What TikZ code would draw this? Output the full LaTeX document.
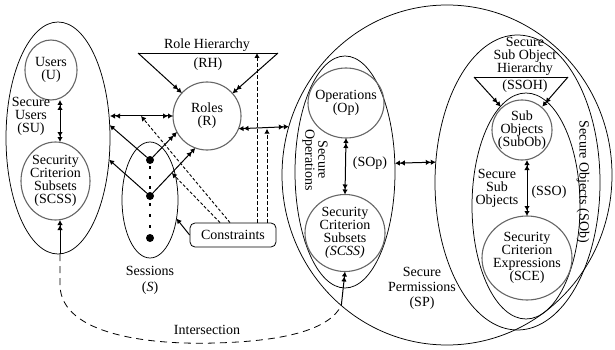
\documentclass[tikz,border=0pt]{standalone}
\usepackage{fontspec}
\setmainfont{Liberation Serif}
\usetikzlibrary{arrows.meta,shapes.geometric,calc}
\begin{document}
\begin{tikzpicture}[x=1pt,y=-1pt,
  font=\fontsize{14}{13}\selectfont,
  >={Latex[length=5pt,width=5.5pt]},
  ring/.style={draw, ellipse, line width=0.75pt, inner sep=0, outer sep=0},
  disc/.style={draw=black!60, ellipse, line width=1.1pt, inner sep=0, outer sep=0},
  txt/.style={align=center, inner sep=0},
  arr/.style={line width=1pt},
  fine/.style={line width=0.9pt, dash pattern=on 3pt off 2pt},
  vdash/.style={line width=1pt, dash pattern=on 4pt off 2pt},
  longdash/.style={line width=0.8pt, dash pattern=on 7pt off 5pt},
  dot/.style={circle, fill, inner sep=0, minimum size=8pt},
  dotline/.style={line width=2.5pt},
]
\useasboundingbox (0,0) rectangle (615,350);

% ---------- Secure users ----------
\node[ring, minimum width=104pt, minimum height=232pt] (SU) at (58,138) {};
\node[disc, minimum width=52pt, minimum height=60pt] (U) at (51,70) {};
\node[txt] (Ut) at (U) {Users\\(U)};
\node[disc, minimum width=69pt, minimum height=78pt] (SCa) at (55.5,181) {};
\node[txt] (SCat) at (SCa) {Security\\Criterion\\Subsets\\(SCSS)};
\node[txt] (SUt) at (31,116) {Secure\\Users\\(SU)};
\draw[arr,<<->>] ($(U.south)+(9,0)$) -- ($(SCa.north)+(4.5,0)$);

% ---------- Roles and role hierarchy ----------
\node[disc, minimum size=68pt] (R) at (207,116) {};
\node[txt] (Rt) at (R) {Roles\\(R)};
\coordinate (rhL) at (138,53);
\coordinate (rhR) at (278,53);
\draw[line width=0.75pt] (rhL) -- (rhR);
\draw[arr,->>] (rhL) -- (R);
\draw[arr,->>] (rhR) -- (R);
\node[txt] (RHt) at (207,45) {Role Hierarchy};
\node[txt] (RHa) at (208,64) {(RH)};

% ---------- Sessions ----------
\node[ring, minimum width=56pt, minimum height=116pt] (S) at (150,200) {};
\node[dot] (d1) at (150,160) {};
\node[dot] (d2) at (150,196) {};
\node[dot] (d3) at (150,238) {};
\draw[dotline, dash pattern=on 2.5pt off 7.5pt, shorten <=2pt] (d1.south) -- (d2.north);
\draw[dotline, dash pattern=on 2.5pt off 8.5pt, shorten <=3pt, shorten >=1pt] (d2.south) -- (d3.north);
\node[txt, font=\fontsize{14}{16}\selectfont] (St) at (150,280) {Sessions\\(\textit{S})};

\draw[arr,->] (d1) -- (SU.14.6);
\draw[arr,->] (d2) -- (SU.-23.3);
\draw[arr,->>] (d1) -- (R.208);
\draw[arr,->>] (d2) -- (R.250);
\draw[arr,<<->>] (SU.east |- R.west) -- (R.west);

% ---------- Secure permissions ----------
\node[ring, minimum width=330pt, minimum height=340pt] (SP) at (447,175) {};
\node[txt, font=\fontsize{14}{15}\selectfont] (SPt) at (422,288) {Secure\\Permissions\\(SP)};
\coordinate (rp) at (R.-22.5);
\draw[arr,<<->>] (rp) -- (SP.163.9);

% ---------- Constraints ----------
\node[draw, rounded corners=5pt, line width=0.8pt, minimum width=86pt, minimum height=24pt, inner sep=0] (C) at (233,235) {Constraints};
\coordinate (h1) at (141,116);
\coordinate (h2) at ($(d2)!0.48!(R.250)$);
\draw[fine,->] ([xshift=-3pt]C.north) -- (h1);
\draw[fine,->] ([xshift=-13pt]C.north) -- (h2);
\draw[arr,->] (C.west) -- (S.-35.5);
\draw[vdash,->] ([xshift=24pt]C.north) -- ([xshift=24pt]C.north |- rhL);
\draw[vdash,->] ([xshift=34pt]C.north) -- ([xshift=34pt]C.north |- rp);

% ---------- Secure operations ----------
\node[ring, minimum width=100pt, minimum height=232pt] (SO) at (345,172) {};
\node[disc, minimum width=76pt, minimum height=70pt] (Op) at (346,103) {};
\node[txt] (Opt) at (Op) {Operations\\(Op)};
\node[disc, minimum width=80pt, minimum height=77pt] (SCb) at (345,233) {};
\node[txt] (SCbt) at (SCb) {Security\\Criterion\\Subsets\\\textit{(SCSS)}};
\draw[arr,<<->>] (Op.south) -- (SCb.north);
\node[txt] (SOpt) at (370,163) {(SOp)};
\node[txt, rotate=-90] (SOt) at (315,160) {Secure\\Operations};

% ---------- Secure objects ----------
\node[ring, minimum width=165pt, minimum height=295pt] (SOb) at (517.5,182.5) {};
\node[txt, rotate=-90] (SObt) at (583,182) {Secure Objects (SOb)};
\draw[arr,<<->>] (SO.10.2) -- (SOb.166.6);

\node[ring, minimum width=108pt, minimum height=226pt] (SSO) at (526,206) {};
\node[disc, minimum size=60pt] (SubOb) at (522,130) {};
\node[txt] (SubObt) at (SubOb) {Sub\\Objects\\(SubOb)};
\node[disc, minimum width=90pt, minimum height=84pt] (SCE) at (527,258) {};
\node[txt] (SCEt) at (SCE) {Security\\Criterion\\Expressions\\(SCE)};
\draw[arr,<<->>] (SubOb.south -| SCE.north) -- (SCE.north);
\node[txt] (SSOa) at (549,192) {(SSO)};
\node[txt] (SSOt) at (497,188) {Secure\\Sub\\Objects};

\coordinate (ssL) at (474,77);
\coordinate (ssR) at (568,77);
\draw[line width=0.75pt] (ssL) -- (ssR);
\draw[arr,->>] (ssL) -- ($(ssL)!0.56!(SubOb)$);
\draw[arr,->>] (ssR) -- ($(ssR)!0.56!(SubOb)$);
\node[txt] (SSOHt) at (525,56) {Secure\\Sub Object\\Hierarchy};
\node[txt] (SSOHa) at (525,86) {(SSOH)};

% ---------- Intersection ----------
\coordinate (iA) at ($(SCa.south)+(4.5,0)$);
\coordinate (iB) at (SU.south -| iA);
\coordinate (iC) at (SP.231.8);
\draw[arr,<<-] (iA) -- (iB);
\draw[longdash] (iB) -- ++(0,32) .. controls (62,335) and (150,345) .. (215,343)
  .. controls (290,341) and (330,328) .. (iC);
\draw[arr,->>] (iC) -- (SCb.south);
\node[txt] (It) at (207,330) {Intersection};
\end{tikzpicture}
\end{document}
